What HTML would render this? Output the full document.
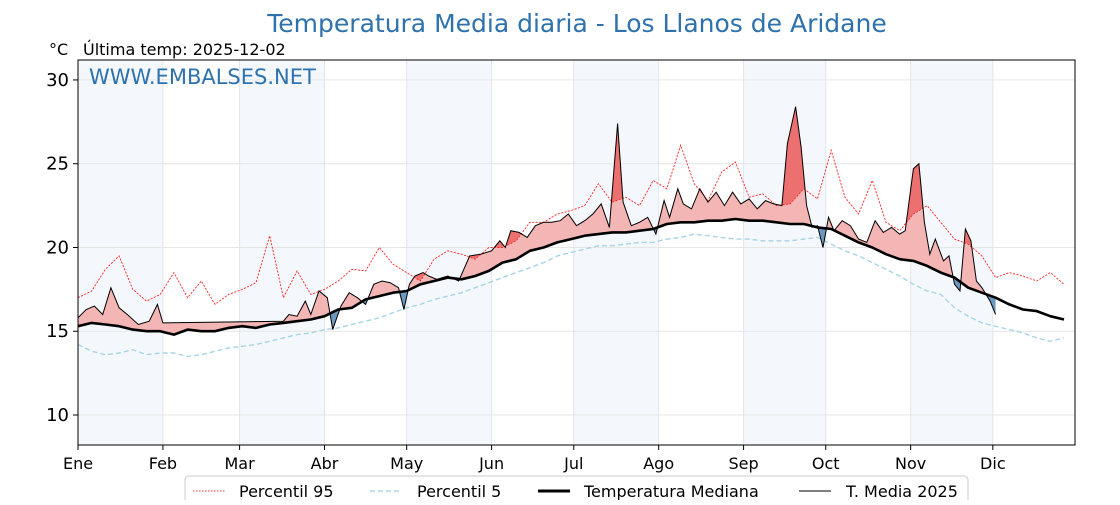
<!DOCTYPE html>
<html><head><meta charset="utf-8"><style>
body{margin:0;background:#fff;width:1120px;height:500px;overflow:hidden;font-family:"Liberation Sans","DejaVu Sans",sans-serif}
</style></head><body>
<svg id="chart" width="1120" height="500" viewBox="0 0 1120 500" xmlns="http://www.w3.org/2000/svg" font-family="DejaVu Sans, Liberation Sans, sans-serif">
<text x="577" y="32" text-anchor="middle" font-size="25" fill="#2e72ad">Temperatura Media diaria - Los Llanos de Aridane</text>
<text x="49" y="55" font-size="16" fill="#000">°C</text>
<text x="83" y="55" font-size="16" fill="#000">Última temp: 2025-12-02</text>
<g id="bands"></g><g id="grid"></g>
<g id="fills"></g><g id="lines"></g>
<rect x="78" y="60" width="997" height="385" fill="none" stroke="#000" stroke-width="1"/>
<text x="89" y="84" font-size="21" fill="#2e72ad">WWW.EMBALSES.NET</text>
<g id="axes"></g>
<g>
<rect x="185" y="476" width="783" height="40" rx="4" fill="#fff" stroke="#ccc"/>
<line x1="193" y1="491" x2="225" y2="491" stroke="#e33" stroke-width="1" stroke-dasharray="1.5,1.5"/>
<text x="239" y="497" font-size="16">Percentil 95</text>
<line x1="370" y1="491" x2="402" y2="491" stroke="#9ccfe0" stroke-width="1.3" stroke-dasharray="5,3"/>
<text x="417" y="497" font-size="16">Percentil 5</text>
<line x1="538" y1="491" x2="570" y2="491" stroke="#000" stroke-width="3"/>
<text x="584" y="497" font-size="16">Temperatura Mediana</text>
<line x1="799" y1="491" x2="831" y2="491" stroke="#000" stroke-width="1"/>
<text x="846" y="497" font-size="16">T. Media 2025</text>
</g>
</svg>
<script>
const monthLabels=["Ene","Feb","Mar","Abr","May","Jun","Jul","Ago","Sep","Oct","Nov","Dic"];
const monthStarts=[0,31,59,90,120,151,181,212,243,273,304,334];
const yTicks=[10,15,20,25,30];
const stepDays=5;
const median=[15.3,15.5,15.4,15.3,15.1,15.0,15.0,14.8,15.1,15.0,15.0,15.2,15.3,15.2,15.4,15.5,15.6,15.7,15.9,16.3,16.4,16.9,17.1,17.3,17.4,17.8,18.0,18.2,18.1,18.3,18.6,19.1,19.3,19.8,20.0,20.3,20.5,20.7,20.8,20.9,20.9,21.0,21.1,21.4,21.5,21.5,21.6,21.6,21.7,21.6,21.6,21.5,21.4,21.4,21.2,21.1,20.7,20.3,20.0,19.6,19.3,19.2,18.9,18.5,18.2,17.6,17.3,17.0,16.6,16.3,16.2,15.9,15.7];
const p5=[14.2,13.8,13.6,13.7,13.9,13.6,13.7,13.7,13.5,13.6,13.8,14.0,14.1,14.2,14.4,14.6,14.8,14.9,15.1,15.2,15.4,15.6,15.8,16.1,16.4,16.6,16.9,17.1,17.3,17.6,17.9,18.2,18.5,18.8,19.1,19.5,19.7,19.9,20.1,20.1,20.2,20.3,20.3,20.5,20.6,20.8,20.7,20.6,20.5,20.5,20.4,20.4,20.4,20.5,20.6,20.2,19.8,19.5,19.1,18.7,18.3,17.8,17.4,17.2,16.4,15.9,15.5,15.3,15.1,14.9,14.6,14.4,14.6];
const p95=[17.0,17.4,18.7,19.5,17.5,16.8,17.2,18.5,17.0,18.0,16.6,17.2,17.5,17.9,20.7,17.0,18.6,17.2,17.5,18.0,18.7,18.6,20.0,19.0,18.5,18.0,19.3,19.8,19.6,19.3,20.0,20.0,20.4,21.5,21.5,22.0,22.2,22.5,23.8,22.7,23.0,22.5,24.0,23.5,26.1,23.8,22.8,24.5,25.1,23.0,23.2,22.5,22.6,23.5,22.9,25.8,23.0,22.0,24.0,21.5,21.0,22.0,22.5,21.5,20.5,20.2,19.5,18.2,18.5,18.3,18.0,18.5,17.8];
const days2025=[0,3,6,9,12,15,18,22,26,29,31,75,77,80,83,85,88,91,93,96,99,102,105,108,111,114,117,119,121,123,126,128,131,135,139,143,147,151,154,156,158,161,164,167,170,173,176,179,182,185,188,191,194,197,199,202,205,208,211,214,216,219,221,224,227,230,233,236,239,242,245,248,251,254,257,259,262,264,266,268,270,272,274,276,279,282,285,288,291,294,297,300,302,305,307,309,311,313,316,318,320,322,324,326,328,330,333,335];
const temp2025=[15.8,16.3,16.5,16.0,17.6,16.4,16.0,15.4,15.6,16.6,15.5,15.6,16.0,15.9,16.8,16.0,17.4,17.0,15.1,16.5,17.3,17.0,16.6,17.8,18.0,17.9,17.6,16.3,17.8,18.3,18.5,18.3,18.1,18.3,18.0,19.5,19.6,19.8,20.4,20.0,21.0,20.9,20.6,21.3,21.5,21.5,21.6,22.0,21.3,21.6,22.0,22.6,21.2,27.4,22.7,21.3,21.5,21.8,20.8,22.8,21.8,23.5,22.6,22.3,23.5,22.7,23.3,22.5,23.3,22.6,22.9,22.3,22.8,22.6,22.5,26.2,28.4,26.0,22.5,21.2,21.3,20.0,21.8,21.0,21.6,21.3,20.5,20.3,21.6,20.9,21.2,20.8,21.0,24.7,25.0,21.5,19.6,20.5,19.2,19.5,17.8,17.4,21.1,20.4,18.0,17.6,16.8,16.0];

const NS="http://www.w3.org/2000/svg";
const X0=78,X1=1075,Y0=60,Y1=445,YMIN=8.21,YMAX=31.19,DAYS=364;
const xs=d=>X0+d/DAYS*(X1-X0);
const ys=v=>Y1-(v-YMIN)/(YMAX-YMIN)*(Y1-Y0);
function mk(tag,attrs,parent){const e=document.createElementNS(NS,tag);for(const k in attrs)e.setAttribute(k,attrs[k]);parent.appendChild(e);return e;}
const G=id=>document.getElementById(id);
const svg=G('chart');
for(let i=0;i<12;i+=2){const a=monthStarts[i],b=i+1<12?monthStarts[i+1]:365;
 const r=mk('rect',{x:xs(a),y:Y0,width:xs(b)-xs(a),height:Y1-Y0,fill:'#f4f8fc'},G('bands'));
 
 }
yTicks.forEach(v=>{const l=mk('line',{x1:X0,x2:X1,y1:ys(v),y2:ys(v),stroke:'#e6e6e6'},G('grid'));
 
 
 mk('line',{x1:X0-5,x2:X0,y1:ys(v),y2:ys(v),stroke:'#000'},G('axes'));
 const t=mk('text',{x:X0-9,y:ys(v)+6,'text-anchor':'end','font-size':18},G('axes'));t.textContent=v;
 
 });
monthStarts.forEach((d,i)=>{const l=mk('line',{x1:xs(d),x2:xs(d),y1:Y0,y2:Y1,stroke:'#e0e6ee'},G('grid'));
 
 
 mk('line',{x1:xs(d),x2:xs(d),y1:Y1,y2:Y1+5,stroke:'#000'},G('axes'));
 const t=mk('text',{x:xs(d),y:469,'text-anchor':'middle','font-size':16},G('axes'));t.textContent=monthLabels[i];
 
 });
const stepPts=arr=>arr.map((v,i)=>[xs(i*stepDays),ys(v)]);
const interpStep=(arr,d)=>{const f=d/stepDays,i=Math.min(Math.floor(f),arr.length-2),t=f-i;return arr[i]*(1-t)+arr[i+1]*t;};
const interpT=d=>{for(let i=0;i<days2025.length-1;i++){if(d<=days2025[i+1]){const t=(d-days2025[i])/(days2025[i+1]-days2025[i]);return temp2025[i]*(1-t)+temp2025[i+1]*t;}}return temp2025[temp2025.length-1];};
const str=p=>p.map(q=>q[0].toFixed(1)+','+q[1].toFixed(1)).join(' ');
const medPts=stepPts(median),p95Pts=stepPts(p95);
const defs=mk('defs',{},svg);
function clip(id,pts,top){const c=mk('clipPath',{id},defs);const b=top?Y0-50:Y1+50;
 mk('polygon',{points:str([[pts[0][0],b],...pts,[pts[pts.length-1][0],b]])},c);}
clip('aboveMed',medPts,true);clip('belowMed',medPts,false);clip('aboveP95',p95Pts,true);
const lastDay=days2025[days2025.length-1];
const allDays=[...new Set(days2025.concat(median.map((_,i)=>i*stepDays).filter(d=>d<=lastDay)))].sort((a,b)=>a-b);
const tPts=allDays.map(d=>[xs(d),ys(interpT(d))]);
const rev=allDays.slice().reverse();
const medAt=rev.map(d=>[xs(d),ys(interpStep(median,d))]);
const p95At=rev.map(d=>[xs(d),ys(interpStep(p95,d))]);
const band=str(tPts.concat(medAt));
let f=mk('polygon',{points:band,fill:'#f4b5b5','clip-path':'url(#aboveMed)'},G('fills'));


f=mk('polygon',{points:band,fill:'#6e99bf','clip-path':'url(#belowMed)'},G('fills'));


f=mk('polygon',{points:str(tPts.concat(p95At)),fill:'#ec7070','clip-path':'url(#aboveP95)'},G('fills'));


let l=mk('polyline',{points:str(p95Pts),fill:'none',stroke:'#f22','stroke-width':0.9,'stroke-dasharray':'2,1.5'},G('lines'));


l=mk('polyline',{points:str(stepPts(p5)),fill:'none',stroke:'#a8d4e4','stroke-width':1.4,'stroke-dasharray':'5,3'},G('lines'));


l=mk('polyline',{points:str(medPts),fill:'none',stroke:'#000','stroke-width':2.6,'stroke-linejoin':'round'},G('lines'));


l=mk('polyline',{points:str(days2025.map((d,i)=>[xs(d),ys(temp2025[i])])),fill:'none',stroke:'#000','stroke-width':1},G('lines'));


</script>
</body></html>
